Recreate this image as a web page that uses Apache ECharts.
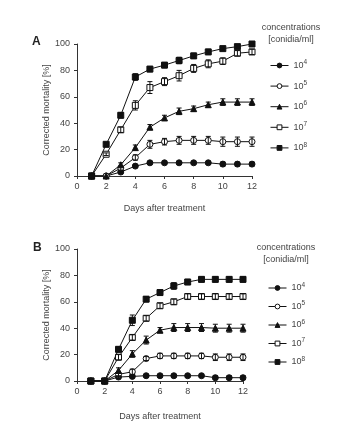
<!DOCTYPE html>
<html><head><meta charset="utf-8">
<script src="https://cdn.jsdelivr.net/npm/echarts@6/dist/echarts.min.js"></script>
<style>html,body{margin:0;padding:0;background:#fff}#c{width:349px;height:426px}</style>
</head><body><div id="c"></div>
<script>
const days = [1,2,3,4,5,6,7,8,9,10,11,12];
const concentrations = ['10^4','10^5','10^6','10^7','10^8'];
const xTickLabels = ['0','2','4','6','8','10','12'];
const yTickLabels = ['0','20','40','60','80','100'];

// Panel A: mean corrected mortality [%]
const A_1e4 = [0,0,3,7.5,10,10,10,10,10,9,9,9];
const A_1e5 = [0,0,6,14,24,26,27,27,27,26,26,26];
const A_1e6 = [0,0,8.5,21.5,37,44,49,51,54,56,56,56];
const A_1e7 = [0,16.5,35,53.5,67,71.5,76,81.5,85,87,93,94];
const A_1e8 = [0,24,46,75,81,84,87.5,91,94,96.5,98,100];
// Panel A: error (±)
const A_err_1e4 = [0,0,1,1,1,1,1,1,1,1.5,1.5,1.5];
const A_err_1e5 = [0,0,1.5,2,3,2.5,3,3,3,3.5,3.5,3.5];
const A_err_1e6 = [0,0,1.5,2,2,2,2.5,2,2,2.5,2.5,2.5];
const A_err_1e7 = [0,1,2,3.5,4.5,3,4,3,3,2.5,2,2];
const A_err_1e8 = [0,1,2,2.5,2,2,2.5,2,2,1.5,1.5,1];

// Panel B
const B_1e4 = [0,0,3,3.5,4,4,4,4,4,2.5,2.5,2.5];
const B_1e5 = [0,0,5,7,17,19,19,19,19,18,18,18];
const B_1e6 = [0,0,8,20.5,31,38.5,40.5,40.5,40.5,40,40,40];
const B_1e7 = [0,0,18,33,47.5,57,60,64,64,64,64,64];
const B_1e8 = [0,0,24,46,62,67,72,75,77,77,77,77];
const B_err_1e4 = [0,0,1,1,1,1,1,1,1,1.5,1.5,1.5];
const B_err_1e5 = [0,0,1.5,2,1.5,2,2,2,2,2.5,2.5,2.5];
const B_err_1e6 = [0,0,2,2.5,3,2,3,3,3,3,3,3];
const B_err_1e7 = [0,0,2,2,2,2,2,2,2,2,2,2];
const B_err_1e8 = [0,0,2,4,2,2,2.5,2,2,2,2,2];

const A_vals = [A_1e4,A_1e5,A_1e6,A_1e7,A_1e8];
const A_errs = [A_err_1e4,A_err_1e5,A_err_1e6,A_err_1e7,A_err_1e8];
const B_vals = [B_1e4,B_1e5,B_1e6,B_1e7,B_1e8];
const B_errs = [B_err_1e4,B_err_1e5,B_err_1e6,B_err_1e7,B_err_1e8];

const INK = '#111';
const TXT = '#444';
const FONT = '"Liberation Sans", Arial, sans-serif';
const styles = [
  {symbol:'circle', fill:INK, size:6},
  {symbol:'circle', fill:'#fff', size:6},
  {symbol:'triangle', fill:INK, size:6},
  {symbol:'rect', fill:'#fff', size:6},
  {symbol:'rect', fill:INK, size:6}
];

function xAxis(gi, gap){
  return {type:'value', gridIndex:gi, min:0, max:12, interval:2,
    name:'Days after treatment', nameLocation:'middle', nameGap:gap, nameMoveOverlap:false,
    nameTextStyle:{color:TXT, fontSize:9, fontFamily:FONT},
    axisLine:{lineStyle:{color:'#333', width:1}},
    axisTick:{show:true, length:3, lineStyle:{color:'#333'}},
    axisLabel:{color:TXT, fontSize:9, fontFamily:FONT, margin:6,
      formatter:v=>xTickLabels[xTickLabels.indexOf(String(v))]||String(v)},
    splitLine:{show:false}};
}
function yAxis(gi){
  return {type:'value', gridIndex:gi, min:0, max:100, interval:20,
    name:'Corrected mortality [%]', nameLocation:'middle', nameGap:26, nameMoveOverlap:false,
    nameTextStyle:{color:TXT, fontSize:9, fontFamily:FONT},
    axisLine:{show:true, lineStyle:{color:'#333', width:1}},
    axisTick:{show:true, length:3, lineStyle:{color:'#333'}},
    axisLabel:{color:TXT, fontSize:9, fontFamily:FONT, margin:7,
      formatter:v=>yTickLabels[yTickLabels.indexOf(String(v))]||String(v)},
    splitLine:{show:false}};
}

const series = [];
function addPanel(gi, vals, errs){
  vals.forEach((arr, i) => {
    const st = styles[i];
    series.push({
      type:'line', name:concentrations[i], xAxisIndex:gi, yAxisIndex:gi,
      data: days.map((d,k)=>[d, arr[k]]),
      symbol:st.symbol, symbolSize:st.size, showAllSymbol:true,
      lineStyle:{color:INK, width:1},
      itemStyle:{color:st.fill, borderColor:INK, borderWidth:1},
      z:2, animation:false
    });
    series.push({
      type:'custom', name:concentrations[i]+'_err', xAxisIndex:gi, yAxisIndex:gi,
      data: days.map((d,k)=>[d, arr[k]-errs[i][k], arr[k]+errs[i][k]]),
      renderItem:(params, api)=>{
        const x = api.value(0);
        const lo = api.coord([x, api.value(1)]);
        const hi = api.coord([x, api.value(2)]);
        if (Math.abs(hi[1]-lo[1]) < 0.5) return null;
        const w = 2.5;
        const s = {stroke:INK, lineWidth:1};
        return {type:'group', children:[
          {type:'line', shape:{x1:lo[0], y1:lo[1], x2:hi[0], y2:hi[1]}, style:s},
          {type:'line', shape:{x1:lo[0]-w, y1:lo[1], x2:lo[0]+w, y2:lo[1]}, style:s},
          {type:'line', shape:{x1:hi[0]-w, y1:hi[1], x2:hi[0]+w, y2:hi[1]}, style:s}
        ]};
      },
      z:3, silent:true, animation:false
    });
  });
}
addPanel(0, A_vals, A_errs);
addPanel(1, B_vals, B_errs);

function legendFmt(name){
  const p = name.split('^');
  return p[0] + '{s|' + p[1] + '}';
}
function legend(gi, left, top, gap){
  return {orient:'vertical', left:left, top:top, itemGap:gap, padding:0,
    itemWidth:18, itemHeight:6, selectedMode:false,
    lineStyle:{width:1},
    itemStyle:{borderWidth:1},
    data: concentrations.map(n=>({name:n})),
    formatter: legendFmt,
    textStyle:{color:TXT, fontSize:9, fontFamily:FONT,
      rich:{s:{fontSize:6.5, color:TXT, fontFamily:FONT, padding:[0,0,6,0]}}}};
}

const chart = echarts.init(document.getElementById('c'), null, {renderer:'canvas'});
chart.setOption({
  animation:false,
  backgroundColor:'#fff',
  title:[
    {text:'A', left:32, top:36, padding:0, textStyle:{fontSize:12, fontWeight:'bold', color:'#222', fontFamily:FONT}},
    {text:'B', left:33, top:242, padding:0, textStyle:{fontSize:12, fontWeight:'bold', color:'#222', fontFamily:FONT}},
    {text:'concentrations\n[conidia/ml]', left:291, top:22, padding:0, textAlign:'center',
      textStyle:{fontSize:9, fontWeight:'normal', color:TXT, fontFamily:FONT, lineHeight:11.5}},
    {text:'concentrations\n[conidia/ml]', left:286, top:242, padding:0, textAlign:'center',
      textStyle:{fontSize:9, fontWeight:'normal', color:TXT, fontFamily:FONT, lineHeight:11.5}}
  ],
  grid:[
    {left:77, top:44, width:175, height:132, containLabel:false},
    {left:77, top:249, width:166, height:132, containLabel:false}
  ],
  xAxis:[xAxis(0, 28), xAxis(1, 31)],
  yAxis:[yAxis(0), yAxis(1)],
  legend:[legend(0, 270, 59, 9.6), legend(1, 268, 281.5, 7.5)],
  series: series
});
</script></body></html>
